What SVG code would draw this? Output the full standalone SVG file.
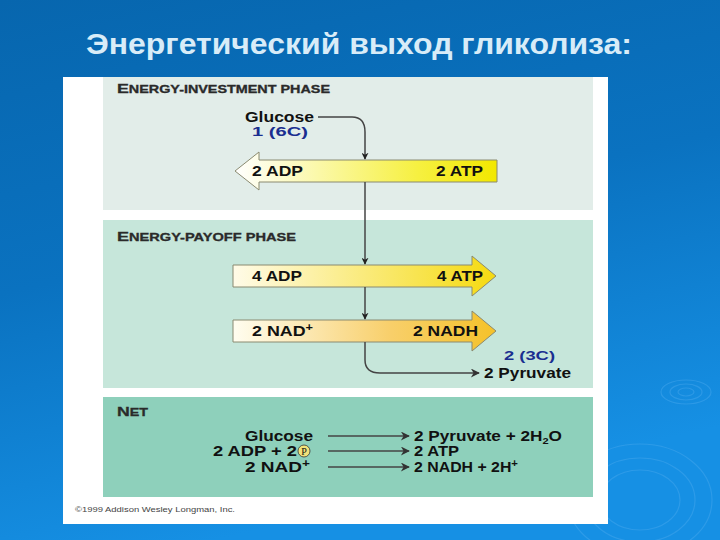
<svg xmlns="http://www.w3.org/2000/svg" width="720" height="540" viewBox="0 0 720 540">
<defs>
<linearGradient id="bg" x1="0" y1="0" x2="0.3" y2="1">
<stop offset="0" stop-color="#0766ae"/>
<stop offset="0.5" stop-color="#0a72c0"/>
<stop offset="1" stop-color="#1690e4"/>
</linearGradient>
<linearGradient id="yl" x1="0" y1="0" x2="1" y2="0">
<stop offset="0" stop-color="#ffffff"/>
<stop offset="0.7" stop-color="#f6f040"/>
<stop offset="1" stop-color="#f2e800"/>
</linearGradient>
<linearGradient id="yl2" x1="0" y1="0" x2="1" y2="0">
<stop offset="0" stop-color="#fffbe8"/>
<stop offset="0.7" stop-color="#f8e450"/>
<stop offset="1" stop-color="#f5da10"/>
</linearGradient>
<linearGradient id="or" x1="0" y1="0" x2="1" y2="0">
<stop offset="0" stop-color="#fffdf0"/>
<stop offset="0.6" stop-color="#f8cf6a"/>
<stop offset="1" stop-color="#f5c22a"/>
</linearGradient>
<marker id="ah" viewBox="0 0 10 10" refX="9" refY="5" markerWidth="7" markerHeight="7" orient="auto" markerUnits="userSpaceOnUse">
<path d="M0,0 L10,5 L0,10 L3,5 Z" fill="#222"/>
</marker>
<marker id="ah2" viewBox="0 0 10 10" refX="9" refY="5" markerWidth="12" markerHeight="9" orient="auto" markerUnits="userSpaceOnUse">
<path d="M0,0 L10,5 L0,10 L3,5 Z" fill="#333"/>
</marker>
</defs>
<style>
.t{font-family:"Liberation Sans",Arial,sans-serif;font-weight:bold;fill:#111}
.h{font-family:"Liberation Sans",Arial,sans-serif;font-weight:bold;fill:#2a2a2a;stroke:#2a2a2a;stroke-width:0.3}
.b{font-family:"Liberation Sans",Arial,sans-serif;font-weight:bold;fill:#1a2e90}
.c{fill:none;stroke:#444;stroke-width:1.5}
.ar{stroke:#8a8a70;stroke-width:1}
</style>
<rect width="720" height="540" fill="url(#bg)"/>
<g fill="none" stroke="#4aa8ee" stroke-opacity="0.45" stroke-width="1.2">
<ellipse cx="686" cy="392" rx="8" ry="4"/>
<ellipse cx="686" cy="392" rx="16" ry="8"/>
<ellipse cx="686" cy="392" rx="25" ry="12"/>
<ellipse cx="640" cy="500" rx="40" ry="30"/>
<ellipse cx="640" cy="500" rx="55" ry="42"/>
<ellipse cx="640" cy="500" rx="72" ry="56"/>
</g>
<text x="86" y="54" textLength="546" lengthAdjust="spacingAndGlyphs" font-family="Liberation Sans,Arial,sans-serif" font-weight="bold" font-size="29" fill="#d8ecf8">Энергетический выход гликолиза:</text>
<rect x="63" y="77" width="545" height="447" fill="#ffffff"/>
<g id="investment">
<rect x="103" y="77" width="490" height="133" fill="#e2ede9"/>
<text x="117" y="93" class="h" font-size="13" textLength="213" lengthAdjust="spacingAndGlyphs">E<tspan font-size="10.5">NERGY-INVESTMENT PHASE</tspan></text>
<text x="245" y="122" class="t" font-size="14" textLength="69" lengthAdjust="spacingAndGlyphs">Glucose</text>
<text x="252" y="136" class="b" font-size="13" textLength="56" lengthAdjust="spacingAndGlyphs">1 (6C)</text>
</g>
<g id="payoff">
<rect x="103" y="220" width="490" height="168" fill="#c6e6da"/>
<text x="117" y="241" class="h" font-size="13" textLength="179" lengthAdjust="spacingAndGlyphs">E<tspan font-size="10.5">NERGY-PAYOFF PHASE</tspan></text>
<text x="504" y="360" class="b" font-size="13" textLength="51" lengthAdjust="spacingAndGlyphs">2 (3C)</text>
<text x="484" y="378" class="t" font-size="14" textLength="87" lengthAdjust="spacingAndGlyphs">2 Pyruvate</text>
</g>
<g id="net">
<rect x="103" y="397" width="490" height="100" fill="#8ed0bb"/>
<text x="117" y="416" class="h" font-size="13" textLength="31" lengthAdjust="spacingAndGlyphs">N<tspan font-size="10.5">ET</tspan></text>
<text x="245" y="441" class="t" font-size="14" textLength="68" lengthAdjust="spacingAndGlyphs">Glucose</text>
<text x="213" y="456" class="t" font-size="14" textLength="84" lengthAdjust="spacingAndGlyphs">2 ADP + 2</text>
<circle cx="304" cy="451" r="6" fill="#f2e27a" stroke="#333" stroke-width="0.8"/>
<text x="304" y="455" font-family="Liberation Serif,serif" font-size="10" text-anchor="middle" fill="#111">P</text>
<text x="245" y="472" class="t" font-size="14" textLength="65" lengthAdjust="spacingAndGlyphs">2 NAD<tspan font-size="10" dy="-5">+</tspan></text>
<text x="414" y="441" class="t" font-size="14" textLength="148" lengthAdjust="spacingAndGlyphs">2 Pyruvate + 2H<tspan font-size="9" dy="3">2</tspan><tspan dy="-3">O</tspan></text>
<text x="414" y="456" class="t" font-size="14" textLength="45" lengthAdjust="spacingAndGlyphs">2 ATP</text>
<text x="414" y="472" class="t" font-size="14" textLength="104" lengthAdjust="spacingAndGlyphs">2 NADH + 2H<tspan font-size="10" dy="-5">+</tspan></text>
</g>
<g id="arrow1">
<path d="M497,160 L259,160 L259,152 L235,171 L259,190 L259,182 L497,182 Z" fill="url(#yl)" class="ar"/>
<text x="252" y="176" class="t" font-size="14" textLength="51" lengthAdjust="spacingAndGlyphs">2 ADP</text>
<text x="436" y="176" class="t" font-size="14" textLength="47" lengthAdjust="spacingAndGlyphs">2 ATP</text>
</g>
<g id="arrow2">
<path d="M233,265 L472,265 L472,256 L496,276 L472,296 L472,287 L233,287 Z" fill="url(#yl2)" class="ar"/>
<text x="252" y="281" class="t" font-size="14" textLength="50" lengthAdjust="spacingAndGlyphs">4 ADP</text>
<text x="437" y="281" class="t" font-size="14" textLength="46" lengthAdjust="spacingAndGlyphs">4 ATP</text>
</g>
<g id="arrow3">
<path d="M233,320 L472,320 L472,311 L496,331 L472,351 L472,342 L233,342 Z" fill="url(#or)" class="ar"/>
<text x="252" y="336" class="t" font-size="14" textLength="61" lengthAdjust="spacingAndGlyphs">2 NAD<tspan font-size="10" dy="-5">+</tspan></text>
<text x="413" y="336" class="t" font-size="14" textLength="65" lengthAdjust="spacingAndGlyphs">2 NADH</text>
</g>
<g id="connectors">
<path d="M318,117 L352,117 Q365,117 365,132 L365,159" class="c" marker-end="url(#ah)"/>
<path d="M365,182 L365,264" class="c" marker-end="url(#ah)"/>
<path d="M365,287 L365,319" class="c" marker-end="url(#ah)"/>
<path d="M365,342 L365,360 Q365,373 380,373 L479,373" class="c" marker-end="url(#ah2)"/>
<path d="M328,436 L409,436" class="c" marker-end="url(#ah2)"/>
<path d="M328,451 L409,451" class="c" marker-end="url(#ah2)"/>
<path d="M328,467 L409,467" class="c" marker-end="url(#ah2)"/>
</g>
<text x="75" y="512" font-family="Liberation Sans,Arial,sans-serif" font-size="7.5" fill="#444" textLength="160" lengthAdjust="spacingAndGlyphs">©1999 Addison Wesley Longman, Inc.</text>
</svg>
